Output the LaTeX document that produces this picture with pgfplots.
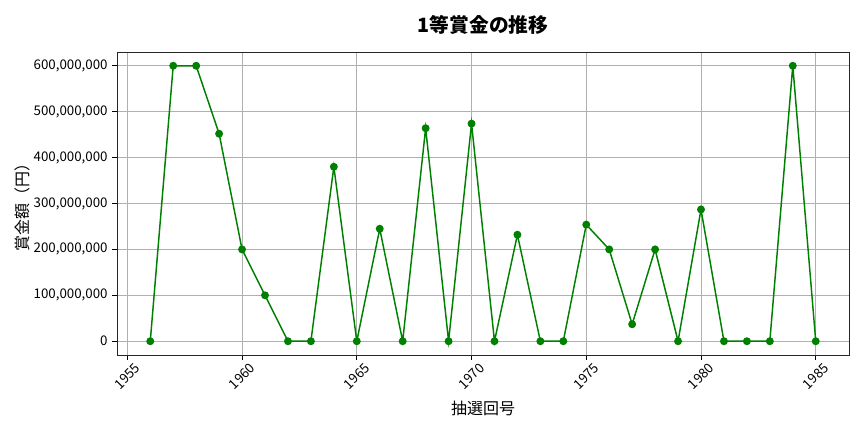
\documentclass[border=0pt]{standalone}
\usepackage{pgfplots}
\pgfplotsset{compat=1.18}
\usepackage{fontspec}
\setmainfont{Noto Sans CJK JP}

\definecolor{linegreen}{HTML}{008000}
\definecolor{gridgray}{HTML}{B0B0B0}

\begin{document}
\begin{tikzpicture}
    \begin{axis}[
        at={(0,0)}, anchor=south west,
        scale only axis,
        width=549pt, height=227.25pt,
        xmin=1954.55, xmax=1986.45,
        ymin=-30000000, ymax=630000000,
        xtick={1955,1960,...,1985},
        ytick={0,100000000,...,600000000},
        scaled y ticks=false,
        /pgf/number format/assume math mode=true,
        xticklabel={\pgfmathprintnumber[fixed,precision=0,1000 sep={}]{\tick}},
        yticklabel={\pgfmathprintnumber[fixed,precision=0,1000 sep={,}]{\tick}},
        xticklabel style={yshift=-12.5pt, rotate=45, anchor=center, font=\fontsize{10}{12}\selectfont},
        yticklabel style={font=\fontsize{10}{12}\selectfont},
        tick align=outside,
        major tick length=3.5pt,
        tick style={black, line width=0.6pt},
        xtick pos=bottom, ytick pos=left,
        grid=major,
        major grid style={gridgray, line width=0.6pt},
        axis line style={line width=0.6pt, black!85},
        title={\bfseries 1等賞金の推移},
        title style={font=\fontsize{14.8}{16}\selectfont, at={(axis description cs:0.5,1.064)}, anchor=center},
        xlabel={抽選回号},
        xlabel style={font=\fontsize{12}{14}\selectfont, at={(axis description cs:0.5,-0.175)}, anchor=center},
        ylabel={賞金額（円）},
        ylabel style={font=\fontsize{12}{14}\selectfont, at={(axis description cs:-0.1298,0.5)}, anchor=center},
    ]
        \addplot[linegreen, line width=1.1pt, mark=*, mark size=2.4pt, mark options={solid, fill=linegreen, draw=linegreen}] coordinates {
            (1956,0) (1957,600000000) (1958,600000000) (1959,452000000)
            (1960,200000000) (1961,100000000) (1962,0) (1963,0)
            (1964,380000000) (1965,0) (1966,245000000) (1967,0)
            (1968,464000000) (1969,0) (1970,474000000) (1971,0)
            (1972,232000000) (1973,0) (1974,0) (1975,254000000)
            (1976,200000000) (1977,37000000) (1978,200000000) (1979,0)
            (1980,287000000) (1981,0) (1982,0) (1983,0)
            (1984,600000000) (1985,0)
        };
    \end{axis}
    \pgfresetboundingbox
    \path (-87.75pt,-57.75pt) rectangle (560.25pt,266.25pt);
\end{tikzpicture}
\end{document}
